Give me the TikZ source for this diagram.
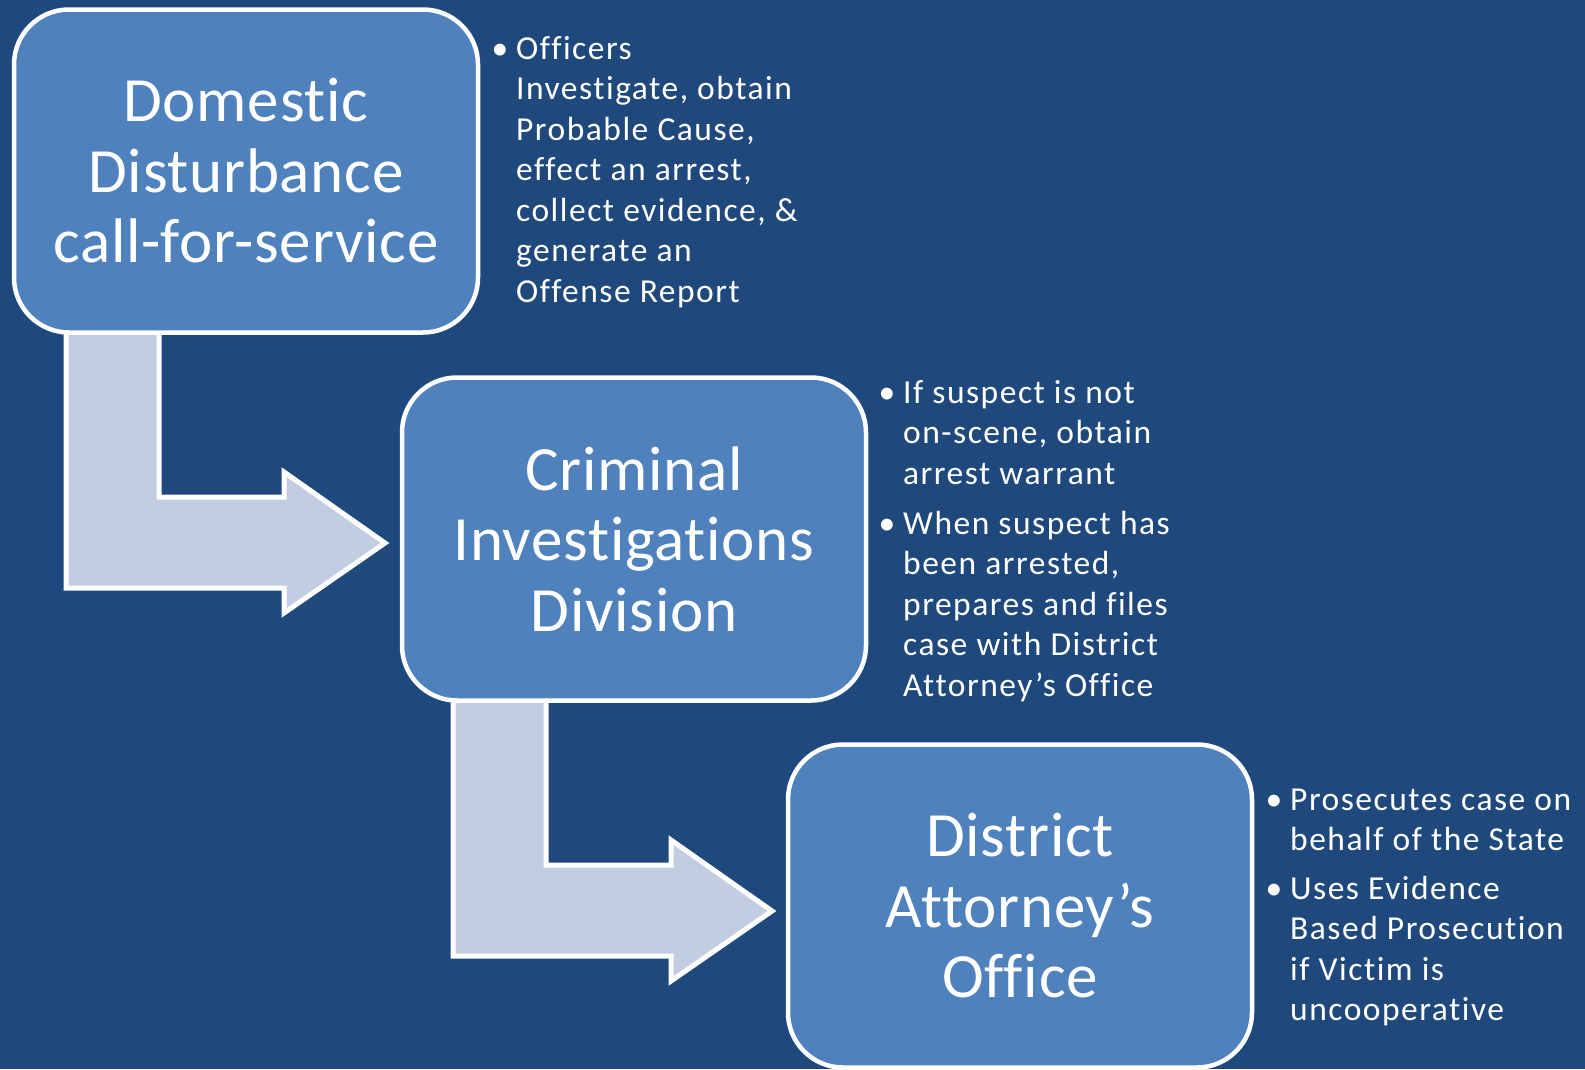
\documentclass[tikz,border=0pt]{standalone}
\usepackage{fontspec}
\setmainfont{Carlito}[Ligatures=NoCommon]
\newfontfamily\titlefont{Carlito}[Ligatures=NoCommon, LetterSpace=1.2]
\newfontfamily\notefont{Carlito}[Ligatures=NoCommon, LetterSpace=4.5]
\definecolor{bgblue}{HTML}{1F497D}
\definecolor{boxblue}{HTML}{4F81BD}
\definecolor{arrowfill}{HTML}{C3CDE1}
\tikzset{
  stagebox/.style={draw=white, line width=4.5pt, fill=boxblue, rounded corners=55pt,
    minimum width=464pt, minimum height=323pt, align=center, text=white,
    font=\titlefont\fontsize{63}{70.5}\selectfont, inner sep=0pt},
  bentarrow/.style={draw=white, line width=5pt, fill=arrowfill, line join=miter},
  notes/.style={anchor=north west, align=left, text=white, inner sep=0pt,
    font=\notefont\fontsize{33.5}{40.5}\selectfont},
}
\newcommand{\bl}{\llap{\textbullet\hspace{8pt}}}
\newcommand{\fl}{\rule{0pt}{25pt}}
\begin{document}
\begin{tikzpicture}[x=1pt,y=-1pt]
\fill[bgblue] (0,0) rectangle (1585,1069);
\useasboundingbox (0,0) rectangle (1585,1069);
% bent arrows (behind boxes)
\draw[bentarrow] (66,300) -- (159,300) -- (159,497) -- (284,497) -- (284,472) -- (385,543) -- (284,613) -- (284,588) -- (66,588) -- cycle;
\draw[bentarrow] (453,660) -- (546,660) -- (546,865) -- (671,865) -- (671,840) -- (772,911) -- (671,981) -- (671,956) -- (453,956) -- cycle;
% boxes
\node[stagebox] (b1) at (246,171) {Domestic\\Disturbance\\call-for-service};
\node[stagebox] (b2) at (634,539) {Criminal\\Investigations\\Division};
\node[stagebox] (b3) at (1020,906) {District\\Attorney’s\\Office};
% notes
\node[notes] (t1) at (516,34) {\fl\bl Officers\\Investigate, obtain\\Probable Cause,\\effect an arrest,\\collect evidence, \&\\generate an\\Offense Report};
\node[notes] (t2) at (903,378) {\fl\bl If suspect is not\\on-scene, obtain\\arrest warrant\\[9.5pt]\bl When suspect has\\been arrested,\\prepares and files\\case with District\\Attorney’s Office};
\node[notes] (t3) at (1290,785) {\fl\bl Prosecutes case on\\behalf of the State\\[8pt]\bl Uses Evidence\\Based Prosecution\\if Victim is\\uncooperative};
\end{tikzpicture}
\end{document}
